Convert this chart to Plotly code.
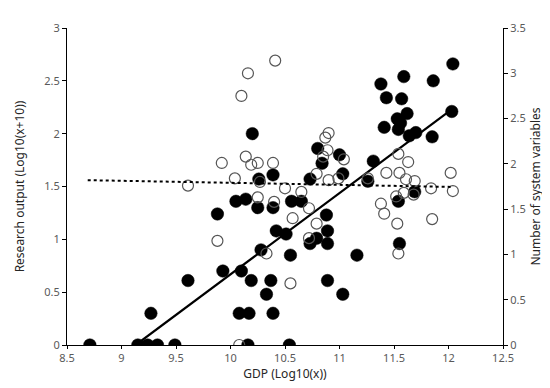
import plotly.graph_objects as go

# Research output (filled, left axis)
gdp_research = [12.04, 11.59, 11.38, 11.86, 11.43, 11.57, 11.62, 11.53, 11.56, 11.54,
                11.41, 12.03, 11.64, 11.70, 11.85, 11.00, 11.31, 11.03, 11.26, 11.69,
                11.54, 11.55, 11.16, 11.03, 10.20, 10.80, 10.84, 10.39, 10.26, 10.73,
                9.88, 10.05, 10.14, 10.25, 10.39, 10.56, 10.65, 10.88, 10.89, 10.42,
                10.51, 10.79, 10.73, 10.89, 10.28, 10.55, 9.93, 10.10, 10.19, 10.37,
                10.89, 9.61, 10.33, 9.27, 10.08, 10.17, 10.39,
                8.71, 9.15, 9.24, 9.33, 9.49, 10.16, 10.54]
research = [2.66, 2.54, 2.47, 2.50, 2.34, 2.33, 2.19, 2.14, 2.10, 2.04,
            2.06, 2.21, 1.98, 2.01, 1.97, 1.80, 1.74, 1.62, 1.55, 1.45,
            1.36, 0.96, 0.85, 0.48, 2.00, 1.86, 1.72, 1.61, 1.57, 1.57,
            1.24, 1.36, 1.38, 1.30, 1.30, 1.36, 1.36, 1.23, 1.08, 1.08,
            1.05, 1.01, 0.96, 0.96, 0.90, 0.85, 0.70, 0.70, 0.61, 0.61,
            0.61, 0.61, 0.48, 0.30, 0.30, 0.30, 0.30,
            0.0, 0.0, 0.0, 0.0, 0.0, 0.0, 0.0]

# Number of system variables (open, right axis)
gdp_system = [10.41, 10.16, 10.10, 9.92, 9.61, 10.04, 10.14, 10.19, 10.25, 10.39,
              10.27, 10.50, 10.65, 10.79, 10.90, 10.87, 10.89, 10.85, 11.04, 10.99,
              10.90, 11.54, 11.63, 11.43, 11.55, 11.61, 11.69, 12.02, 11.84, 12.04,
              11.59, 11.68, 11.52, 11.38, 11.41, 11.53, 11.85, 11.54, 10.25, 10.40,
              10.72, 10.57, 10.79, 10.72, 9.88, 10.33, 10.55, 10.08, 11.26]
system_vars = [3.14, 3.00, 2.75, 2.01, 1.76, 1.84, 2.08, 1.99, 2.01, 2.01,
               1.80, 1.73, 1.69, 1.89, 2.34, 2.29, 2.15, 2.08, 2.05, 1.84,
               1.82, 2.11, 2.02, 1.90, 1.90, 1.83, 1.81, 1.90, 1.73, 1.70,
               1.68, 1.66, 1.64, 1.56, 1.45, 1.34, 1.39, 1.01, 1.63, 1.58,
               1.51, 1.40, 1.34, 1.18, 1.15, 1.01, 0.68, 0.0, 1.84]

# Trend lines (end points)
trend_research_x = [9.13, 12.03]
trend_research_y = [0.0, 2.23]
trend_system_x = [8.69, 12.04]
trend_system_y = [1.82, 1.745]

fig = go.Figure()
fig.add_trace(go.Scatter(x=gdp_system, y=system_vars, yaxis="y2", mode="markers",
                         marker=dict(symbol="circle-open", size=11, color="#555555",
                                     line=dict(color="#555555", width=1.2)),
                         showlegend=False))
fig.add_trace(go.Scatter(x=gdp_research, y=research, mode="markers",
                         marker=dict(symbol="circle", size=12.5, color="black",
                                     line=dict(color="black", width=0.5)),
                         showlegend=False))
fig.add_trace(go.Scatter(x=trend_system_x, y=trend_system_y, yaxis="y2", mode="lines",
                         line=dict(color="black", width=2, dash="dot"),
                         showlegend=False))
fig.add_trace(go.Scatter(x=trend_research_x, y=trend_research_y, mode="lines",
                         line=dict(color="black", width=2.2),
                         showlegend=False))

tickfont = dict(family="Noto Sans, Liberation Sans, sans-serif", size=11, color="#595959")
titlefont = dict(family="Noto Sans, Liberation Sans, sans-serif", size=12, color="#262626")

fig.update_layout(
    width=550, height=388,
    margin=dict(l=58, r=55, t=12, b=51),
    plot_bgcolor="white", paper_bgcolor="white",
    xaxis=dict(range=[8.5, 12.5], dtick=0.5, tick0=8.5, showgrid=False, zeroline=False,
               showline=True, linecolor="black", linewidth=1.2, ticks="outside",
               ticklen=3, tickcolor="black", tickfont=tickfont,
               title=dict(text="GDP (Log10(x))", font=titlefont, standoff=2)),
    yaxis=dict(range=[0, 3], dtick=0.5, showgrid=False, zeroline=False,
               showline=True, linecolor="black", linewidth=1.2, ticks="outside",
               ticklen=4, tickcolor="black", tickfont=tickfont,
               title=dict(text="Research output (Log10(x+10))", font=titlefont, standoff=16)),
    yaxis2=dict(range=[0, 3.5], dtick=0.5, overlaying="y", side="right",
                showgrid=False, zeroline=False,
                showline=True, linecolor="black", linewidth=1.2, ticks="outside",
                ticklen=4, tickcolor="black", tickfont=tickfont,
                title=dict(text="Number of system variables", font=titlefont, standoff=6)),
)

fig.write_html("out.html")
